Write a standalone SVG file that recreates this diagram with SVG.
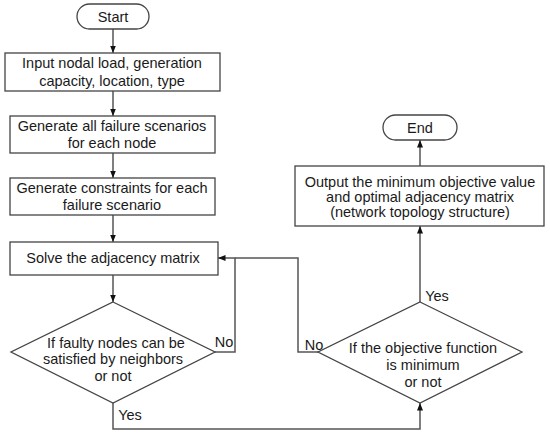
<svg xmlns="http://www.w3.org/2000/svg" width="550" height="438" viewBox="0 0 550 438">
<style>
.s{fill:#fff;stroke:#444;stroke-width:1.3}
.c{fill:none;stroke:#555;stroke-width:1.5}
text{font-family:"Liberation Sans",Arial,sans-serif;font-size:14.5px;fill:#1a1a1a;text-anchor:middle}
</style>
<defs>
<marker id="a" viewBox="0 0 10 10" refX="10" refY="5" markerWidth="5" markerHeight="5" orient="auto"><path d="M0,1 L10,5 L0,9 z" fill="#111"/></marker>
</defs>
<rect width="550" height="438" fill="#fff"/>
<g id="connectors">
<path class="c" d="M113,29 V53" marker-end="url(#a)"/>
<path class="c" d="M113,91 V116" marker-end="url(#a)"/>
<path class="c" d="M113,153 V178" marker-end="url(#a)"/>
<path class="c" d="M113,215 V242" marker-end="url(#a)"/>
<path class="c" d="M113,275 V302" marker-end="url(#a)"/>
<path class="c" d="M215,352 H235 V258 H218" marker-end="url(#a)"/>
<path class="c" d="M113,403 V429 H420 V403" marker-end="url(#a)"/>
<path class="c" d="M318,352 H298 V258 H235"/>
<path class="c" d="M420,302 V226" marker-end="url(#a)"/>
<path class="c" d="M420,166 V140" marker-end="url(#a)"/>
<text x="224" y="347">No</text>
<text x="314" y="350">No</text>
<text x="130" y="420">Yes</text>
<text x="437" y="301">Yes</text>
</g>
<g id="start"><rect class="s" x="77" y="4" width="72" height="25" rx="12.5"/><text x="113" y="22">Start</text></g>
<g id="input"><rect class="s" x="5" y="53" width="215" height="38"/><text x="112" y="68">Input nodal load, generation</text><text x="112" y="86">capacity, location, type</text></g>
<g id="scenarios"><rect class="s" x="10" y="116" width="205" height="37"/><text x="112" y="131">Generate all failure scenarios</text><text x="112" y="148">for each node</text></g>
<g id="constraints"><rect class="s" x="10" y="178" width="205" height="37"/><text x="112" y="193">Generate constraints for each</text><text x="112" y="210">failure scenario</text></g>
<g id="solve"><rect class="s" x="10" y="242" width="208" height="33"/><text x="113" y="263">Solve the adjacency matrix</text></g>
<g id="faulty"><path class="s" d="M113,302 L215,352 L113,403 L11,352 Z"/><text x="116" y="348">If faulty nodes can be</text><text x="113" y="364">satisfied by neighbors</text><text x="113" y="381">or not</text></g>
<g id="objective"><path class="s" d="M420,302 L522,352 L420,403 L318,352 Z"/><text x="423" y="353">If the objective function</text><text x="423" y="370">is minimum</text><text x="423" y="387">or not</text></g>
<g id="output"><rect class="s" x="295" y="166" width="249" height="60"/><text x="420" y="187">Output the minimum objective value</text><text x="420" y="202">and optimal adjacency matrix</text><text x="420" y="217">(network topology structure)</text></g>
<g id="end"><rect class="s" x="383" y="115" width="74" height="25" rx="12.5"/><text x="420" y="133">End</text></g>
</svg>
